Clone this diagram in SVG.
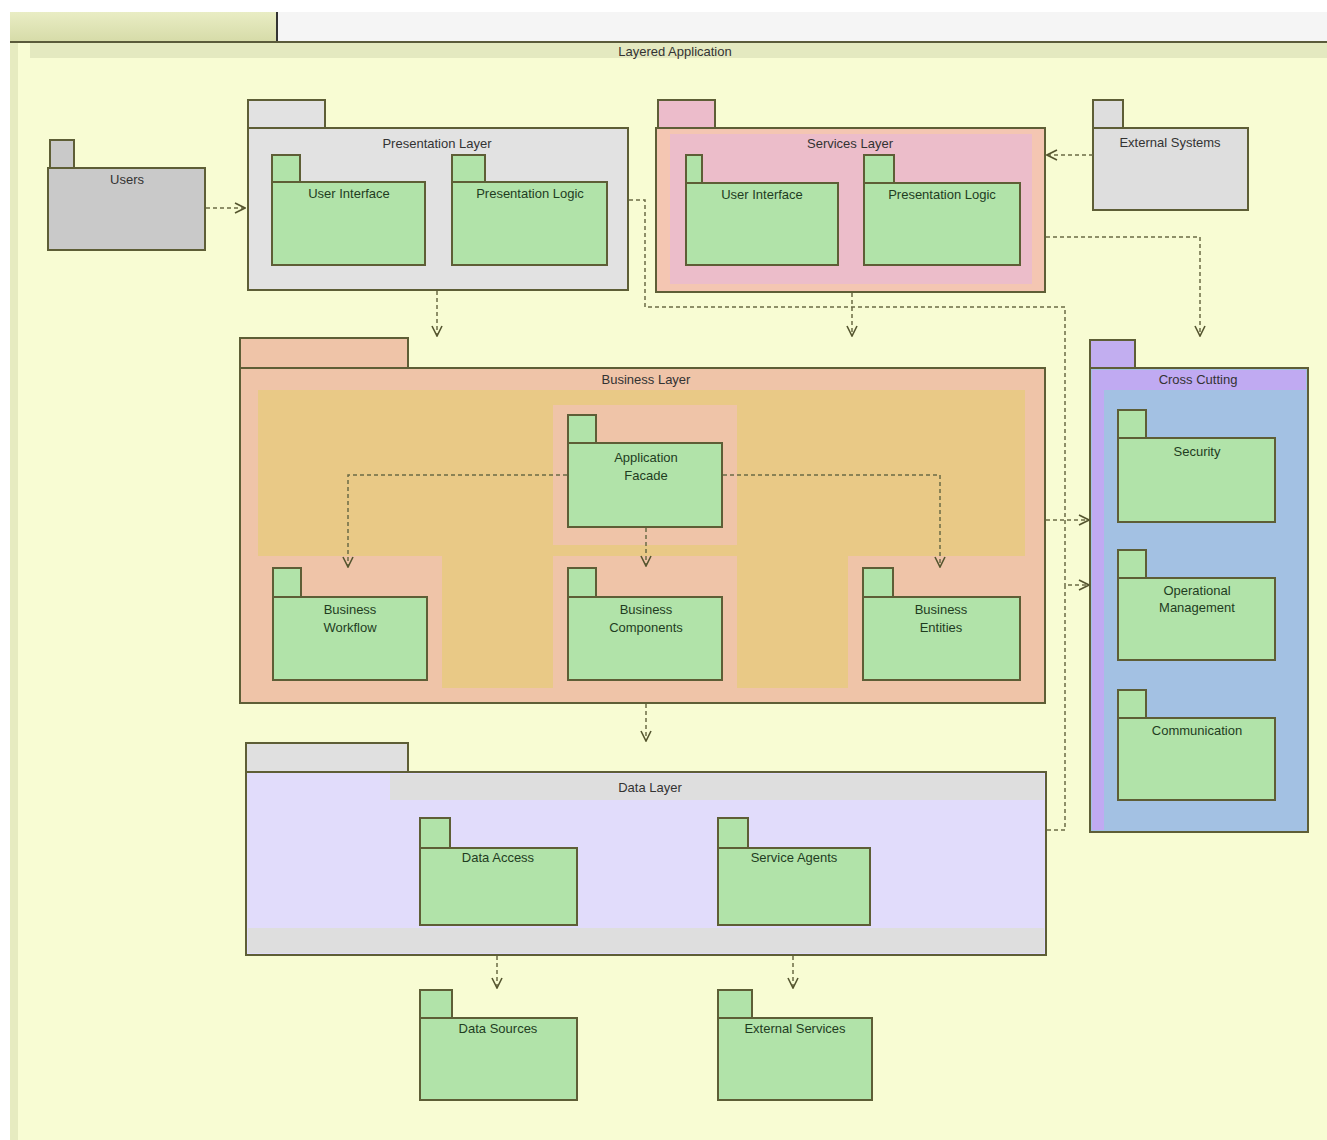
<svg xmlns="http://www.w3.org/2000/svg" width="1327" height="1140" viewBox="0 0 1327 1140">
<style>
.pk{stroke:#5e5e36;stroke-width:2}
.g{fill:#b1e3a9}
.t{font-family:"Liberation Sans",Arial,sans-serif;font-size:13px;text-anchor:middle;fill:#1f3d1f}
.h{font-family:"Liberation Sans",Arial,sans-serif;font-size:13px;text-anchor:middle;fill:#333}
.c{stroke:#6b6b45;stroke-width:1.5;stroke-dasharray:4 3;fill:none}
.a{marker-end:url(#arr)}
</style>
<defs>
<marker id="arr" viewBox="0 0 12 12" refX="11" refY="6" markerWidth="12" markerHeight="12" markerUnits="userSpaceOnUse" orient="auto">
<path d="M1,1 L11,6 L1,11" fill="none" stroke="#55552f" stroke-width="1.6"/>
</marker>
<linearGradient id="tabg" x1="0" y1="0" x2="0" y2="1"><stop offset="0" stop-color="#e9edc4"/><stop offset="1" stop-color="#d6dba8"/></linearGradient>
</defs>
<rect x="0" y="0" width="1327" height="1140" fill="#ffffff"/>
<g id="frame">
<rect x="10" y="42" width="1317" height="1098" fill="#f8fcd3"/>
<rect x="10" y="42" width="8" height="1098" fill="#e6ebc0"/>
<rect x="30" y="42" width="1297" height="16" fill="#e4e9c0"/>
<rect x="277" y="12" width="1050" height="30" fill="#f5f5f5"/>
<rect x="10" y="12" width="267" height="30" fill="url(#tabg)"/>
<line x1="277" y1="12" x2="277" y2="42" stroke="#333" stroke-width="2"/>
<line x1="10" y1="42" x2="1327" y2="42" stroke="#5a5a3a" stroke-width="2"/>
<text class="h" x="675" y="56">Layered Application</text>
</g>
<g id="users">
<rect class="pk" x="50" y="140" width="24" height="28" fill="#c9c9c9"/>
<rect class="pk" x="48" y="168" width="157" height="82" fill="#c9c9c9"/>
<text class="h" x="127" y="184">Users</text>
</g>
<g id="presentation-layer">
<rect class="pk" x="248" y="100" width="77" height="28" fill="#e2e2e2"/>
<rect class="pk" x="248" y="128" width="380" height="162" fill="#e2e2e2"/>
<text class="h" x="437" y="148">Presentation Layer</text>
</g>
<g id="pl-user-interface">
<rect class="pk g" x="272" y="155" width="28" height="27"/>
<rect class="pk g" x="272" y="182" width="153" height="83"/>
<text class="t" x="349" y="198">User Interface</text>
</g>
<g id="pl-presentation-logic">
<rect class="pk g" x="452" y="155" width="33" height="27"/>
<rect class="pk g" x="452" y="182" width="155" height="83"/>
<text class="t" x="530" y="198">Presentation Logic</text>
</g>
<g id="services-layer">
<rect class="pk" x="658" y="100" width="57" height="28" fill="#ecbccb"/>
<rect class="pk" x="656" y="128" width="389" height="164" fill="#f4c6b2"/>
<rect x="670" y="134" width="362" height="150" fill="#ecbdca"/>
<text class="h" x="850" y="148">Services Layer</text>
</g>
<g id="sl-user-interface">
<rect class="pk g" x="686" y="155" width="16" height="28"/>
<rect class="pk g" x="686" y="183" width="152" height="82"/>
<text class="t" x="762" y="199">User Interface</text>
</g>
<g id="sl-presentation-logic">
<rect class="pk g" x="864" y="155" width="30" height="28"/>
<rect class="pk g" x="864" y="183" width="156" height="82"/>
<text class="t" x="942" y="199">Presentation Logic</text>
</g>
<g id="external-systems">
<rect class="pk" x="1093" y="100" width="30" height="28" fill="#dedede"/>
<rect class="pk" x="1093" y="128" width="155" height="82" fill="#dedede"/>
<text class="h" x="1170" y="147">External Systems</text>
</g>
<g id="business-layer">
<rect class="pk" x="240" y="338" width="168" height="30" fill="#efc4a8"/>
<rect class="pk" x="240" y="368" width="805" height="335" fill="#efc4a8"/>
<rect x="258" y="390" width="767" height="298" fill="#e9c986"/>
<rect x="553" y="405" width="184" height="140" fill="#efc4a8"/>
<rect x="258" y="556" width="184" height="132" fill="#efc4a8"/>
<rect x="553" y="556" width="184" height="132" fill="#efc4a8"/>
<rect x="848" y="556" width="177" height="132" fill="#efc4a8"/>
<text class="h" x="646" y="384">Business Layer</text>
</g>
<g id="application-facade">
<rect class="pk g" x="568" y="415" width="28" height="28"/>
<rect class="pk g" x="568" y="443" width="154" height="84"/>
<text class="t" x="646" y="462">Application</text>
<text class="t" x="646" y="480">Facade</text>
</g>
<g id="business-workflow">
<rect class="pk g" x="273" y="568" width="28" height="29"/>
<rect class="pk g" x="273" y="597" width="154" height="83"/>
<text class="t" x="350" y="614">Business</text>
<text class="t" x="350" y="632">Workflow</text>
</g>
<g id="business-components">
<rect class="pk g" x="568" y="568" width="28" height="29"/>
<rect class="pk g" x="568" y="597" width="154" height="83"/>
<text class="t" x="646" y="614">Business</text>
<text class="t" x="646" y="632">Components</text>
</g>
<g id="business-entities">
<rect class="pk g" x="863" y="568" width="30" height="29"/>
<rect class="pk g" x="863" y="597" width="157" height="83"/>
<text class="t" x="941" y="614">Business</text>
<text class="t" x="941" y="632">Entities</text>
</g>
<g id="cross-cutting">
<rect class="pk" x="1090" y="340" width="45" height="28" fill="#c2aef0"/>
<rect class="pk" x="1090" y="368" width="218" height="464" fill="#a3c1e3"/>
<rect x="1092" y="370" width="12" height="460" fill="#c0aaf2"/>
<rect x="1104" y="370" width="202" height="20" fill="#c0aaf2"/>
<text class="h" x="1198" y="384">Cross Cutting</text>
</g>
<g id="security">
<rect class="pk g" x="1118" y="410" width="28" height="28"/>
<rect class="pk g" x="1118" y="438" width="157" height="84"/>
<text class="t" x="1197" y="456">Security</text>
</g>
<g id="operational-management">
<rect class="pk g" x="1118" y="550" width="28" height="28"/>
<rect class="pk g" x="1118" y="578" width="157" height="82"/>
<text class="t" x="1197" y="595">Operational</text>
<text class="t" x="1197" y="612">Management</text>
</g>
<g id="communication">
<rect class="pk g" x="1118" y="690" width="28" height="28"/>
<rect class="pk g" x="1118" y="718" width="157" height="82"/>
<text class="t" x="1197" y="735">Communication</text>
</g>
<g id="data-layer">
<rect class="pk" x="246" y="743" width="162" height="29" fill="#e0e0e0"/>
<rect class="pk" x="246" y="772" width="800" height="183" fill="#e1dcfb"/>
<rect x="390" y="774" width="654" height="26" fill="#dedede"/>
<rect x="248" y="928" width="796" height="25" fill="#dedede"/>
<text class="h" x="650" y="792">Data Layer</text>
</g>
<g id="data-access">
<rect class="pk g" x="420" y="818" width="30" height="30"/>
<rect class="pk g" x="420" y="848" width="157" height="77"/>
<text class="t" x="498" y="862">Data Access</text>
</g>
<g id="service-agents">
<rect class="pk g" x="718" y="818" width="30" height="30"/>
<rect class="pk g" x="718" y="848" width="152" height="77"/>
<text class="t" x="794" y="862">Service Agents</text>
</g>
<g id="data-sources">
<rect class="pk g" x="420" y="990" width="32" height="28"/>
<rect class="pk g" x="420" y="1018" width="157" height="82"/>
<text class="t" x="498" y="1033">Data Sources</text>
</g>
<g id="external-services">
<rect class="pk g" x="718" y="990" width="34" height="28"/>
<rect class="pk g" x="718" y="1018" width="154" height="82"/>
<text class="t" x="795" y="1033">External Services</text>
</g>
<g id="connectors">
<path class="c a" d="M206,208 H245"/>
<path class="c a" d="M437,291 V336"/>
<path class="c a" d="M852,293 V336"/>
<path class="c" d="M629,200 H645 V307 H1065 V585"/>
<path class="c a" d="M1093,155 H1047"/>
<path class="c a" d="M1046,237 H1200 V336"/>
<path class="c a" d="M1046,520 H1089"/>
<path class="c a" d="M1047,830 H1065 V585 H1089"/>
<path class="c a" d="M646,704 V741"/>
<path class="c a" d="M567,475 H348 V567"/>
<path class="c a" d="M723,475 H940 V567"/>
<path class="c a" d="M646,528 V566"/>
<path class="c a" d="M497,956 V988"/>
<path class="c a" d="M793,956 V988"/>
</g>
</svg>
